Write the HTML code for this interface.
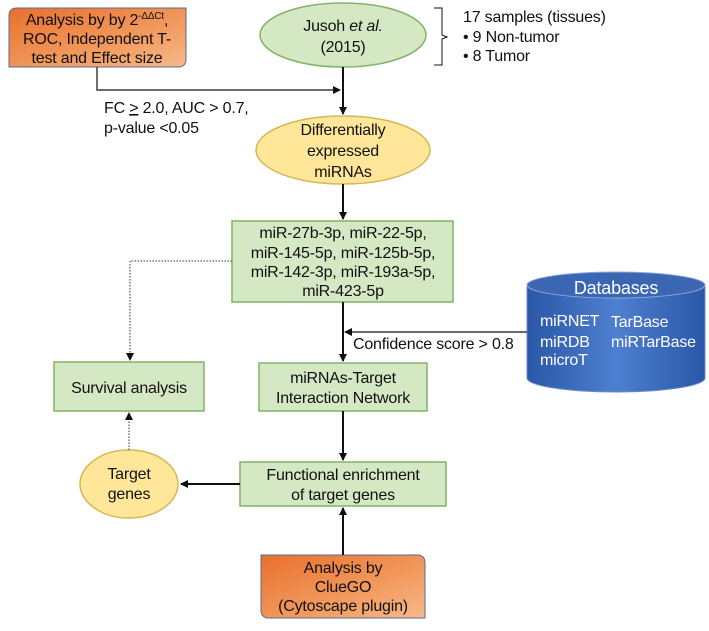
<!DOCTYPE html>
<html><head><meta charset="utf-8"><style>
html,body{margin:0;padding:0;background:#fff;}
svg text{font-family:"Liberation Sans",Arial,sans-serif;font-size:16px;letter-spacing:-0.2px;fill:#111;}
</style></head><body>
<svg width="709" height="626" viewBox="0 0 709 626" xmlns="http://www.w3.org/2000/svg">
<defs>
<linearGradient id="og" x1="0" y1="0" x2="1" y2="1"><stop offset="0" stop-color="#e8702e"/><stop offset="0.6" stop-color="#f29a5e"/><stop offset="1" stop-color="#f7b98a"/></linearGradient>
<linearGradient id="bg" x1="0" y1="0" x2="1" y2="0"><stop offset="0" stop-color="#2a57a8"/><stop offset="0.5" stop-color="#4f7fd0"/><stop offset="1" stop-color="#2a57a8"/></linearGradient>
<marker id="a" markerWidth="8" markerHeight="8" refX="7" refY="4" orient="auto" markerUnits="userSpaceOnUse"><path d="M0,0 L8,4 L0,8 z" fill="#111"/></marker>
</defs>
<path d="M17,8 H186 V59 Q186,67 178,67 H9 V16 Q9,8 17,8 z" fill="url(#og)" stroke="#5a6a90" stroke-width="1"/>
<text x="97" y="25" text-anchor="middle">Analysis by by 2<tspan font-size="10" dy="-6">-ΔΔCt</tspan><tspan dy="6">,</tspan></text>
<text x="97" y="44" text-anchor="middle">ROC, Independent T-</text>
<text x="97" y="63" text-anchor="middle">test and Effect size</text>
<ellipse cx="343" cy="35" rx="83" ry="32" fill="#d5e8c4" stroke="#82b366" stroke-width="1.5"/>
<text x="343" y="31" text-anchor="middle">Jusoh <tspan font-style="italic">et al.</tspan></text>
<text x="343" y="52" text-anchor="middle">(2015)</text>
<path d="M434,8 H442 V35 L447,37 L442,39 V65 H434" fill="none" stroke="#111" stroke-width="1"/>
<text x="463" y="22">17 samples (tissues)</text>
<text x="463" y="42">•  9 Non-tumor</text>
<text x="463" y="61">•  8 Tumor</text>
<path d="M97,67 V90 H340" fill="none" stroke="#111" stroke-width="1.2" marker-end="url(#a)"/>
<path d="M343,67 V114" fill="none" stroke="#111" stroke-width="2" marker-end="url(#a)"/>
<text x="104" y="113">FC <tspan text-decoration="underline">&gt;</tspan> 2.0, AUC &gt; 0.7,</text>
<text x="104" y="133">p-value &lt;0.05</text>
<ellipse cx="343" cy="150" rx="87" ry="34" fill="#ffe699" stroke="#d6b656" stroke-width="1.5"/>
<text x="343" y="135" text-anchor="middle">Differentially</text>
<text x="343" y="156" text-anchor="middle">expressed</text>
<text x="343" y="177" text-anchor="middle">miRNAs</text>
<path d="M343,184 V219" fill="none" stroke="#111" stroke-width="2" marker-end="url(#a)"/>
<rect x="232" y="221" width="221" height="81" fill="#d5e8c4" stroke="#82b366" stroke-width="1.5"/>
<text x="343" y="238" text-anchor="middle">miR-27b-3p, miR-22-5p,</text>
<text x="343" y="258" text-anchor="middle">miR-145-5p, miR-125b-5p,</text>
<text x="343" y="277" text-anchor="middle">miR-142-3p, miR-193a-5p,</text>
<text x="343" y="296" text-anchor="middle">miR-423-5p</text>
<path d="M232,261 H130 V360" fill="none" stroke="#333" stroke-width="1" stroke-dasharray="1.5,1.5" marker-end="url(#a)"/>
<path d="M343,302 V361" fill="none" stroke="#111" stroke-width="2" marker-end="url(#a)"/>
<path d="M527,285 V378 A89,14 0 0 0 705,378 V285" fill="url(#bg)" stroke="#6a8cc8" stroke-width="1"/>
<ellipse cx="616" cy="285" rx="89" ry="13" fill="#3a66b4" stroke="#8aa8dc" stroke-width="1"/>
<text x="616" y="294" text-anchor="middle" style="fill:#fff;font-size:18px">Databases</text>
<text x="540" y="326" style="fill:#fff">miRNET</text>
<text x="540" y="347" style="fill:#fff">miRDB</text>
<text x="540" y="365" style="fill:#fff">microT</text>
<text x="611" y="327" style="fill:#fff">TarBase</text>
<text x="611" y="347" style="fill:#fff">miRTarBase</text>
<path d="M527,332 H345" fill="none" stroke="#111" stroke-width="1.2" marker-end="url(#a)"/>
<text x="353" y="349">Confidence score &gt; 0.8</text>
<rect x="54" y="362" width="150" height="49" fill="#d5e8c4" stroke="#82b366" stroke-width="1.5"/>
<text x="129" y="393" text-anchor="middle">Survival analysis</text>
<rect x="259" y="363" width="168" height="48" fill="#d5e8c4" stroke="#82b366" stroke-width="1.5"/>
<text x="343" y="383" text-anchor="middle">miRNAs-Target</text>
<text x="343" y="403" text-anchor="middle">Interaction Network</text>
<path d="M343,411 V460" fill="none" stroke="#111" stroke-width="2" marker-end="url(#a)"/>
<rect x="240" y="462" width="206" height="44" fill="#d5e8c4" stroke="#82b366" stroke-width="1.5"/>
<text x="343" y="480" text-anchor="middle">Functional enrichment</text>
<text x="343" y="500" text-anchor="middle">of target genes</text>
<ellipse cx="129" cy="484" rx="49" ry="34" fill="#ffe699" stroke="#d6b656" stroke-width="1.5"/>
<text x="129" y="479" text-anchor="middle">Target</text>
<text x="129" y="499" text-anchor="middle">genes</text>
<path d="M240,484 H181" fill="none" stroke="#111" stroke-width="2" marker-end="url(#a)"/>
<path d="M129,450 V413" fill="none" stroke="#333" stroke-width="1" stroke-dasharray="1.5,1.5" marker-end="url(#a)"/>
<path d="M261,555 H417 Q425,555 425,563 V618 H269 Q261,618 261,610 z" fill="url(#og)" stroke="#5a6a90" stroke-width="1"/>
<text x="343" y="573" text-anchor="middle">Analysis by</text>
<text x="343" y="592" text-anchor="middle">ClueGO</text>
<text x="343" y="611" text-anchor="middle">(Cytoscape plugin)</text>
<path d="M343,555 V508" fill="none" stroke="#111" stroke-width="2" marker-end="url(#a)"/>
</svg>
</body></html>
